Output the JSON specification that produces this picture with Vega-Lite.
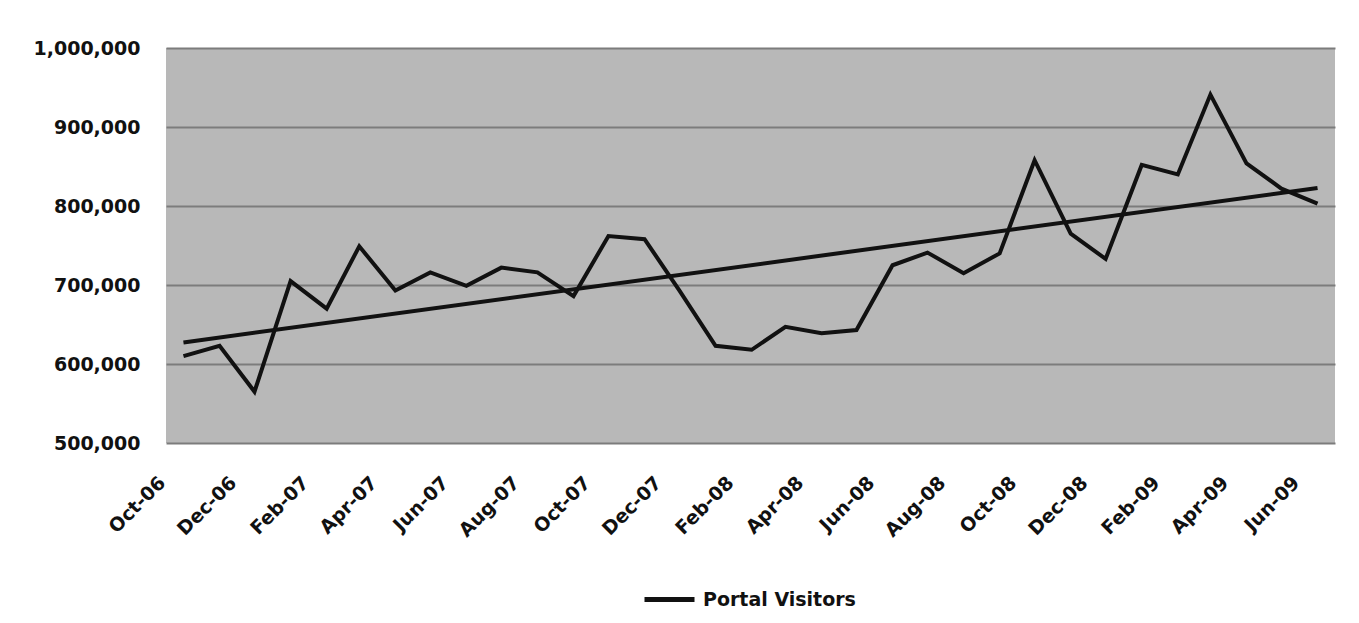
{
  "$schema": "https://vega.github.io/schema/vega-lite/v6.json",
  "width": 1169,
  "height": 395,
  "autosize": "none",
  "padding": {"left": 166, "top": 48, "right": 24, "bottom": 180},
  "background": "white",
  "data": {
    "values": [
      {"month": "2006-10-01", "visitors": 610000},
      {"month": "2006-11-01", "visitors": 623000},
      {"month": "2006-12-01", "visitors": 565000},
      {"month": "2007-01-01", "visitors": 705000},
      {"month": "2007-02-01", "visitors": 670000},
      {"month": "2007-03-01", "visitors": 749000},
      {"month": "2007-04-01", "visitors": 693000},
      {"month": "2007-05-01", "visitors": 716000},
      {"month": "2007-06-01", "visitors": 699000},
      {"month": "2007-07-01", "visitors": 722000},
      {"month": "2007-08-01", "visitors": 716000},
      {"month": "2007-09-01", "visitors": 686000},
      {"month": "2007-10-01", "visitors": 762000},
      {"month": "2007-11-01", "visitors": 758000},
      {"month": "2007-12-01", "visitors": 693000},
      {"month": "2008-01-01", "visitors": 623000},
      {"month": "2008-02-01", "visitors": 618000},
      {"month": "2008-03-01", "visitors": 647000},
      {"month": "2008-04-01", "visitors": 639000},
      {"month": "2008-05-01", "visitors": 643000},
      {"month": "2008-06-01", "visitors": 725000},
      {"month": "2008-07-01", "visitors": 741000},
      {"month": "2008-08-01", "visitors": 715000},
      {"month": "2008-09-01", "visitors": 740000},
      {"month": "2008-10-01", "visitors": 858000},
      {"month": "2008-11-01", "visitors": 765000},
      {"month": "2008-12-01", "visitors": 733000},
      {"month": "2009-01-01", "visitors": 852000},
      {"month": "2009-02-01", "visitors": 840000},
      {"month": "2009-03-01", "visitors": 941000},
      {"month": "2009-04-01", "visitors": 854000},
      {"month": "2009-05-01", "visitors": 822000},
      {"month": "2009-06-01", "visitors": 803000}
    ],
    "format": {"parse": {"month": "date"}}
  },
  "encoding": {
    "x": {
      "field": "month",
      "type": "temporal",
      "scale": {
        "type": "utc",
        "domain": [
          {"year": 2006, "month": "Sep", "date": 16, "utc": true},
          {"year": 2009, "month": "Jun", "date": 16, "utc": true}
        ]
      },
      "axis": {
        "title": null,
        "format": "%b-%y",
        "values": [
          {"year": 2006, "month": "Oct", "date": 1, "utc": true},
          {"year": 2006, "month": "Dec", "date": 1, "utc": true},
          {"year": 2007, "month": "Feb", "date": 1, "utc": true},
          {"year": 2007, "month": "Apr", "date": 1, "utc": true},
          {"year": 2007, "month": "Jun", "date": 1, "utc": true},
          {"year": 2007, "month": "Aug", "date": 1, "utc": true},
          {"year": 2007, "month": "Oct", "date": 1, "utc": true},
          {"year": 2007, "month": "Dec", "date": 1, "utc": true},
          {"year": 2008, "month": "Feb", "date": 1, "utc": true},
          {"year": 2008, "month": "Apr", "date": 1, "utc": true},
          {"year": 2008, "month": "Jun", "date": 1, "utc": true},
          {"year": 2008, "month": "Aug", "date": 1, "utc": true},
          {"year": 2008, "month": "Oct", "date": 1, "utc": true},
          {"year": 2008, "month": "Dec", "date": 1, "utc": true},
          {"year": 2009, "month": "Feb", "date": 1, "utc": true},
          {"year": 2009, "month": "Apr", "date": 1, "utc": true},
          {"year": 2009, "month": "Jun", "date": 1, "utc": true}
        ],
        "labelAngle": -45,
        "labelAlign": "right",
        "labelBaseline": "top",
        "labelOffset": -28,
        "labelPadding": 30,
        "labelFlush": false,
        "labelOverlap": false,
        "labelBound": false,
        "grid": false,
        "ticks": false,
        "domain": false,
        "labelFont": "DejaVu Sans",
        "labelFontWeight": "bold",
        "labelFontSize": 19,
        "labelColor": "#111111"
      }
    },
    "y": {
      "field": "visitors",
      "type": "quantitative",
      "scale": {"domain": [500000, 1000000], "nice": false, "zero": false},
      "axis": {
        "title": null,
        "values": [500000, 600000, 700000, 800000, 900000, 1000000],
        "format": ",.0f",
        "ticks": false,
        "domain": false,
        "grid": true,
        "gridColor": "#7c7c7c",
        "gridWidth": 2,
        "gridOpacity": 1,
        "labelPadding": 26,
        "labelFont": "DejaVu Sans",
        "labelFontWeight": "bold",
        "labelFontSize": 19,
        "labelColor": "#111111"
      }
    }
  },
  "layer": [
    {
      "mark": {"type": "line", "strokeWidth": 4, "strokeJoin": "miter"},
      "encoding": {
        "color": {
          "datum": "Portal Visitors",
          "type": "nominal",
          "scale": {"range": ["#111111"]},
          "legend": {
            "title": null,
            "orient": "none",
            "legendX": 476,
            "legendY": 524,
            "symbolType": "stroke",
            "symbolSize": 2500,
            "symbolStrokeWidth": 5,
            "labelOffset": 6,
            "labelFont": "DejaVu Sans",
            "labelFontWeight": "bold",
            "labelFontSize": 19,
            "labelColor": "#111111"
          }
        }
      }
    },
    {
      "transform": [{"regression": "visitors", "on": "month"}],
      "mark": {"type": "line", "strokeWidth": 4, "color": "#111111"},
      "encoding": {}
    }
  ],
  "config": {
    "view": {"fill": "#b8b8b8", "stroke": null}
  }
}
